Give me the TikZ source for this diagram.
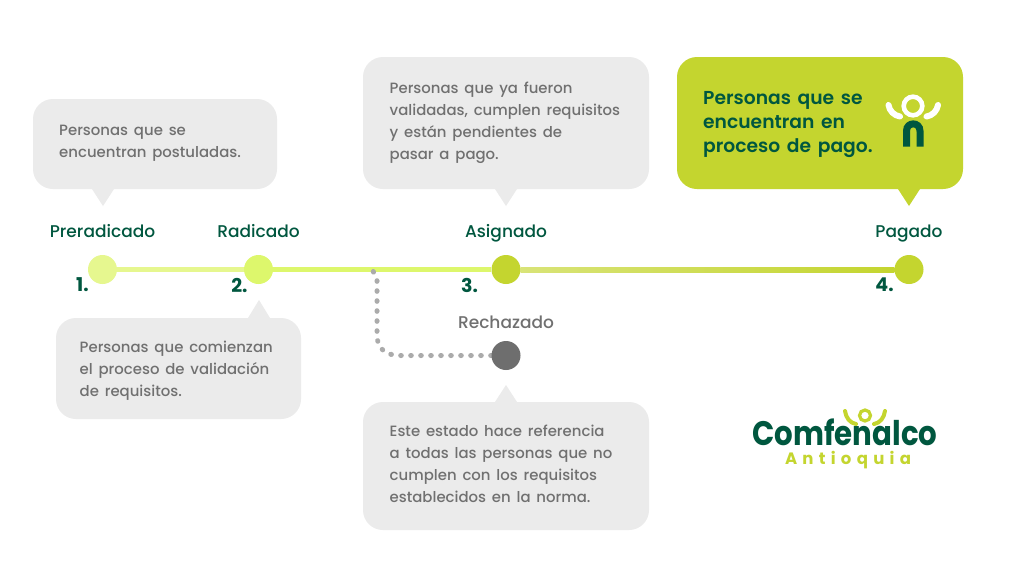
\documentclass[tikz,border=0pt]{standalone}
\usepackage{fontspec}
\setmainfont{Poppins}[UprightFont={* Medium},BoldFont={* SemiBold},WordSpace=1.5]
\newfontfamily\logofont{Poppins}[UprightFont={* Bold}]
\usetikzlibrary{calc}
\definecolor{bub}{HTML}{EBEBEB}
\definecolor{txtg}{HTML}{707070}
\definecolor{dk}{HTML}{00573F}
\definecolor{lime}{HTML}{C4D52F}
\definecolor{li}{HTML}{DDF76C}
\definecolor{lip}{HTML}{E6F78F}
\definecolor{grayc}{HTML}{6E6E6E}
\definecolor{dots}{HTML}{ABABAB}
\tikzset{
 x=1pt,y=-1pt,
 desc/.style={anchor=north west,align=left,text=txtg,font=\fontsize{14.9}{22}\selectfont,inner sep=0pt},
 stat/.style={anchor=base,text=dk,font=\fontsize{17}{18}\selectfont,inner sep=0pt},
 num/.style={text=dk,font=\logofont\fontsize{19}{20}\selectfont,inner sep=0pt},
 dot/.style={circle,minimum size=29pt,inner sep=0pt,fill=#1},
}
\begin{document}
\begin{tikzpicture}
\useasboundingbox[fill=white] (0,0) rectangle (1018,582);
% bubbles
\fill[bub,rounded corners=20pt] (33,99) rectangle (277,189);
\fill[bub] (92,189) -- (103,206) -- (114,189) -- cycle;
\fill[bub,rounded corners=20pt] (56,318) rectangle (301,419);
\fill[bub] (248,318) -- (259,300) -- (270,318) -- cycle;
\fill[bub,rounded corners=20pt] (363,57) rectangle (649,189);
\fill[bub] (495,189) -- (506,206) -- (517,189) -- cycle;
\fill[lime,rounded corners=20pt] (677,57) rectangle (963,189);
\fill[lime] (898,189) -- (909,206) -- (920,189) -- cycle;
\fill[bub,rounded corners=20pt] (363,402) rectangle (649,530);
\fill[bub] (495,402) -- (506,385) -- (517,402) -- cycle;
% text in bubbles
\node[desc] (t1) at (59,124.5) {Personas que se\\encuentran postuladas.};
\node[desc] (t2) at (79.5,341) {Personas que comienzan\\el proceso de validación\\de requisitos.};
\node[desc] (t3) at (389.5,82) {Personas que ya fueron\\validadas, cumplen requisitos\\y están pendientes de\\pasar a pago.};
\node[desc] (t5) at (389.5,425) {Este estado hace referencia\\a todas las personas que no\\cumplen con los requisitos\\establecidos en la norma.};
\node[desc,text=dk,font=\bfseries\fontsize{18.7}{24}\selectfont] (t4) at (703,91) {Personas que se\\encuentran en\\proceso de pago.};
% timeline nodes
\node[dot=lip] (n1) at (102.5,269.5) {};
\node[dot=li] (n2) at (258.5,269.5) {};
\node[dot=lime] (n3) at (506,269.5) {};
\node[dot=lime] (n4) at (909,269.5) {};
\coordinate (br) at (373,271);
\draw[lip,line width=5pt] (n1) -- (n2);
\draw[li,line width=5pt] (n2) -- (n3);
\fill[left color=lime!65!white,right color=lime] ($(n3.east)+(0,-2.5)$) rectangle ($(n4.west)+(0,2.5)$);
\draw[dots,line width=5pt,line cap=round,dash pattern=on 0.6pt off 9.4pt] (n3.west |- 0,355.5) -- (400,355.5) .. controls (385,355.5) and (377,348) .. (377,335) -- (377,280) -- (br);
\node[dot=grayc] (n5) at (506,355.5) {};
% labels
\node[stat] (l1) at (102.5,237.6) {Preradicado};
\node[stat] (l2) at (258.5,237.6) {Radicado};
\node[stat] (l3) at (506,237.6) {Asignado};
\node[stat] (l4) at (909,237.6) {Pagado};
\node[stat,text=txtg] (l5) at (506,328) {Rechazado};
\node[num] (m1) at (82.5,285) {1.};
\node[num] (m2) at (239.5,285) {2.};
\node[num] (m3) at (469.5,285) {3.};
\node[num] (m4) at (884.5,285) {4.};
% person icon
\draw[white,line width=4.6pt] (913,106) circle (9.3);
\draw[white,line width=6pt,line cap=round] (888.5,105) .. controls (889.5,111) and (894,115.5) .. (900,116.5);
\draw[white,line width=6pt,line cap=round] (938,105) .. controls (937,111) and (932.5,115.5) .. (926.5,116.5);
\draw[dk,line width=7pt] (906.5,146.5) -- (906.5,131) .. controls (906.5,121.5) and (920,121.5) .. (920,131) -- (920,146.5);
% logo
\node[anchor=base,inner sep=0pt,text=dk,xscale=0.86,font=\logofont\fontsize{34}{36}\selectfont] (lg) at (845,445) {Comfenalco};
\node[anchor=base,inner sep=0pt,text=lime,font=\logofont\fontsize{16.5}{17}\selectfont\addfontfeature{LetterSpace=32}] (lg2) at (848,464) {Antioquia};
\draw[lime,line width=3.2pt] (865,415.5) circle (5.5);
\draw[lime,line width=4pt,line cap=round] (845,411) .. controls (846,418) and (850,423) .. (856,424);
\draw[lime,line width=4pt,line cap=round] (885,411) .. controls (884,418) and (880,423) .. (874,424);
\end{tikzpicture}
\end{document}
